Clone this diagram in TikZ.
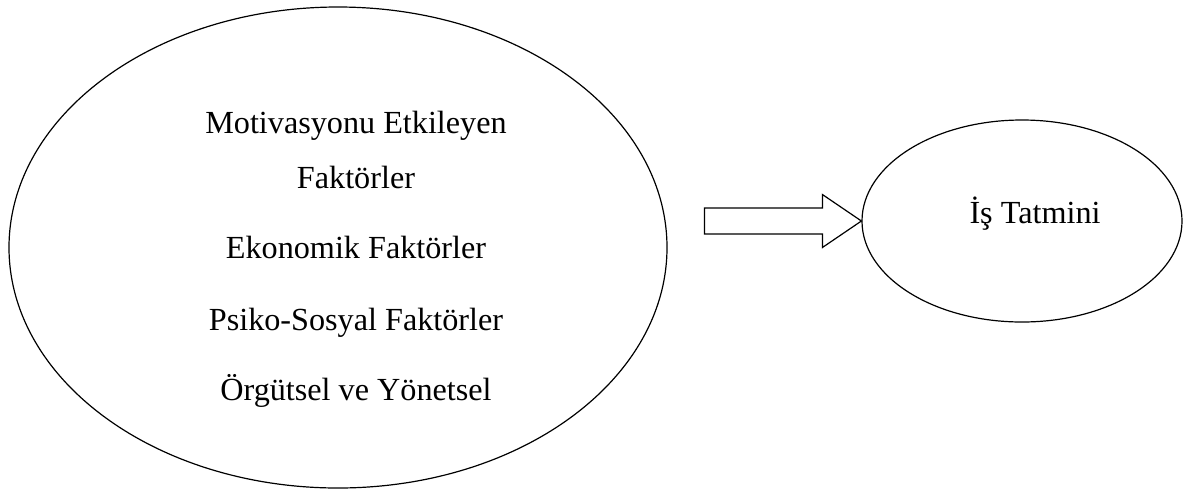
\documentclass[tikz,border=0pt]{standalone}
\usepackage{fontspec}
\setmainfont{Liberation Serif}
\usetikzlibrary{shapes.geometric}
\begin{document}
\begin{tikzpicture}[x=0.5pt,y=-0.5pt,line width=0.6pt,
  oval/.style={draw,ellipse,inner sep=0pt},
  txt/.style={font=\fontsize{16.1}{19}\selectfont,inner sep=0pt,anchor=base}]
	\useasboundingbox (0,0) rectangle (1194,489);
	\node[oval,minimum width=329pt,minimum height=240.5pt] (faktor) at (338,247.5) {};
	\node[oval,minimum width=160pt,minimum height=101pt] (tatmin) at (1022,221) {};
	\node[txt] (motiv) at (356,133) {Motivasyonu Etkileyen};
	\node[txt] (motivb) at (356,188) {Faktörler};
	\node[txt] (ekon) at (356,258) {Ekonomik Faktörler};
	\node[txt] (psiko) at (356,330) {Psiko-Sosyal Faktörler};
	\node[txt] (orgut) at (356,400) {Örgütsel ve Yönetsel};
	\node[txt] (is) at (1035,223) {İş Tatmini};
	% blok ok
	\draw (tatmin.west) -- ++(-39,-26.5) -- ++(0,13.5) -- ++(-118,0) -- ++(0,26) -- ++(118,0) -- ++(0,13.5) -- cycle;
\end{tikzpicture}
\end{document}
